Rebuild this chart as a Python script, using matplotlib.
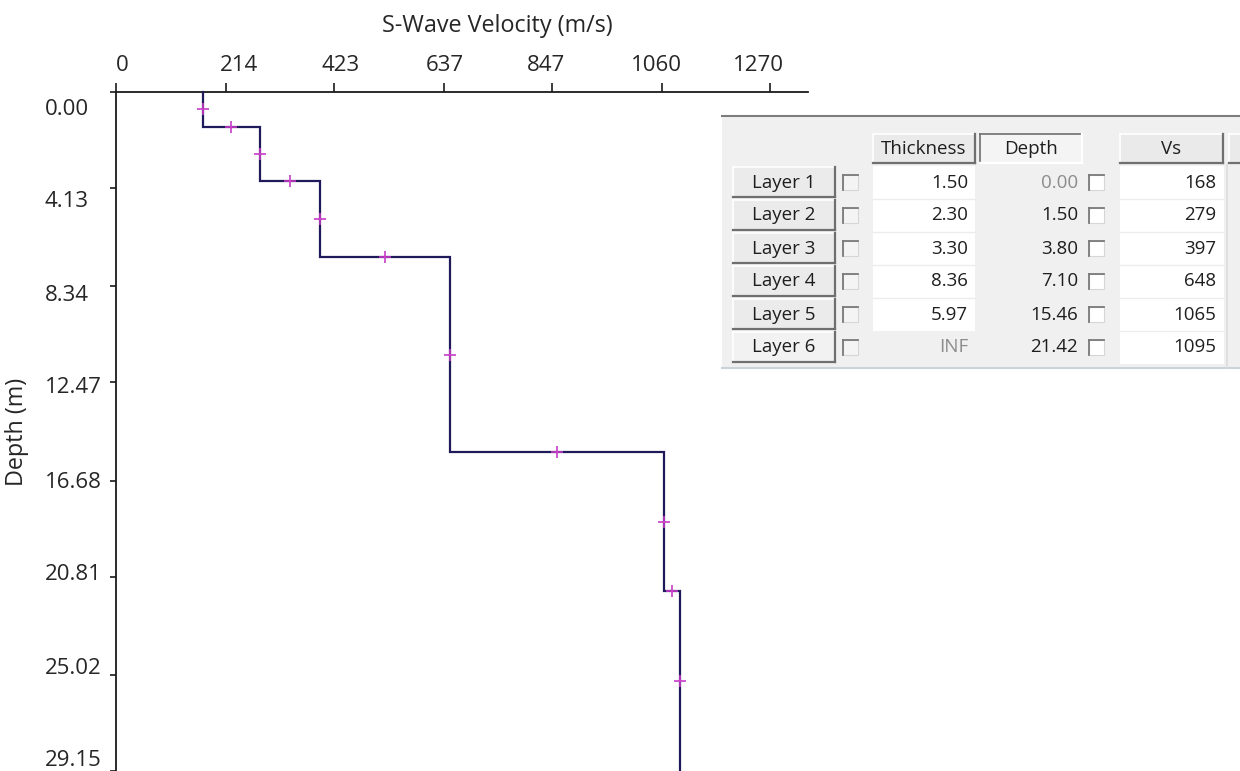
import numpy as np
import matplotlib
matplotlib.use("Agg")
import matplotlib.pyplot as plt
from matplotlib.patches import Rectangle
from matplotlib.transforms import ScaledTranslation

plt.rcParams['font.family'] = ['Open Sans', 'DejaVu Sans']

# Layered shear-wave velocity model
layer_names = ["Layer 1", "Layer 2", "Layer 3", "Layer 4", "Layer 5", "Layer 6"]
thickness = [1.50, 2.30, 3.30, 8.36, 5.97, None]   # None = half-space
top_depth = [0.00, 1.50, 3.80, 7.10, 15.46, 21.42]
vs = [168, 279, 397, 648, 1065, 1095]

x_ticks = [0, 214, 423, 637, 847, 1060, 1270]
y_ticks = [0.00, 4.13, 8.34, 12.47, 16.68, 20.81, 25.02, 29.15]
depth_max = 29.15
vel_max = 1344

W, H = 1240, 771
fig = plt.figure(figsize=(W / 100, H / 100), dpi=100)
fig.patch.set_facecolor('white')

# ---- profile axes -------------------------------------------------------
ax_left, ax_right, ax_top = 116, 808, 92
ax = fig.add_axes([ax_left / W, 0, (ax_right - ax_left) / W, (H - ax_top) / H])
ax.set_xlim(0, vel_max)
ax.set_ylim(depth_max, 0)
ax.xaxis.tick_top()
ax.xaxis.set_label_position('top')
for side in ('right', 'bottom'):
    ax.spines[side].set_visible(False)
for side in ('left', 'top'):
    ax.spines[side].set_linewidth(1.3)
    ax.spines[side].set_color('#1a1a1a')

text_col = '#262626'
ax.set_xticks(x_ticks)
ax.set_xticklabels([str(v) for v in x_ticks])
ax.set_yticks(y_ticks)
ax.set_yticklabels([f"{v:.2f}" for v in y_ticks])
ax.tick_params(axis='x', direction='out', length=6.5, width=1.2, pad=5,
               labelsize=16, colors='#1a1a1a', labelcolor=text_col)
ax.tick_params(axis='y', direction='out', length=4.3, width=1.2, pad=47,
               labelsize=16, colors='#1a1a1a', labelcolor=text_col)

# tick labels are laid out on their own, slightly tighter spacing
for i, lab in enumerate(ax.get_xticklabels()):
    lab.set_ha('left')
    lab.set_transform(lab.get_transform() +
                      ScaledTranslation(-6.2 * i / 100, 0, fig.dpi_scale_trans))
for i, lab in enumerate(ax.get_yticklabels()):
    lab.set_ha('left')
    lab.set_transform(lab.get_transform() +
                      ScaledTranslation(0, -(15 - 4.0 * i) / 100, fig.dpi_scale_trans))

ax.set_xlabel("S-Wave Velocity (m/s)", fontsize=16.8, color=text_col)
ax.xaxis.set_label_coords((497 - ax_left) / (ax_right - ax_left), 1 + 60 / (H - ax_top))
ax.set_ylabel("Depth (m)", fontsize=16.8, color=text_col)
ax.yaxis.set_label_coords((29 - ax_left) / (ax_right - ax_left), 0.5)

# step profile
bounds = np.array(top_depth + [depth_max])
px = np.repeat(vs, 2)
py = np.repeat(bounds, 2)[1:-1]
ax.plot(px, py, color='#1f1b5a', lw=1.6, solid_joinstyle='miter', clip_on=False, zorder=3)

# markers at the middle of every segment
mid_layer_x = np.array(vs, dtype=float)
mid_layer_y = (bounds[:-1] + bounds[1:]) / 2
mid_int_x = (np.array(vs[:-1]) + np.array(vs[1:])) / 2
mid_int_y = bounds[1:-1]
ax.plot(np.r_[mid_layer_x, mid_int_x], np.r_[mid_layer_y, mid_int_y], ls='none',
        marker='+', ms=9, mew=1.2, color='#c83cc8', zorder=4)

# ---- layer table ---------------------------------------------------------
tb = fig.add_axes([0, 0, 1, 1], zorder=5)
tb.set_xlim(0, W)
tb.set_ylim(H, 0)
tb.axis('off')
tb.patch.set_alpha(0)

bg = '#f0f0f0'
tb.add_patch(Rectangle((722, 116), W - 722, 252, facecolor=bg, edgecolor='none'))
tb.plot([722, W], [116, 116], color='#7d7d7d', lw=1.5)
tb.plot([722, W], [368, 368], color='#c9d3dc', lw=1.5)


def button(x0, x1, y0, y1, pressed=False, face='#eaeaea'):
    tb.add_patch(Rectangle((x0, y0), x1 - x0, y1 - y0, facecolor=face, edgecolor='none'))
    dark, light = '#6f6f6f', '#ffffff'
    tl, br = (dark, light) if pressed else (light, dark)
    tb.plot([x0, x1], [y0, y0], color=tl, lw=1.2)
    tb.plot([x0, x0], [y0, y1], color=tl, lw=1.2)
    tb.plot([x0, x1], [y1, y1], color=br, lw=1.6)
    tb.plot([x1, x1], [y0, y1], color=br, lw=1.6)


def checkbox(xc, yc, face):
    s = 15
    tb.add_patch(Rectangle((xc - s / 2, yc - s / 2), s, s, facecolor=face,
                           edgecolor='#d6d6d6', lw=0.8))
    tb.plot([xc - s / 2, xc + s / 2], [yc - s / 2, yc - s / 2], color='#7a7a7a', lw=1.3)
    tb.plot([xc - s / 2, xc - s / 2], [yc - s / 2, yc + s / 2], color='#7a7a7a', lw=1.3)


tfs = 13.5
tcol = '#1e1e1e'
gcol = '#8c8c8c'

# header row
hy0, hy1 = 134, 163
button(873, 975, hy0, hy1)
button(980, 1082, hy0, hy1, pressed=True, face='#f4f4f4')
button(1120, 1223, hy0, hy1)
button(1229, 1260, hy0, hy1)
tb.text(924, 149, "Thickness", fontsize=tfs, color=tcol, ha='center', va='center')
tb.text(1031, 149, "Depth", fontsize=tfs, color=tcol, ha='center', va='center')
tb.text(1171, 149, "Vs", fontsize=tfs, color=tcol, ha='center', va='center')

row_top, pitch = 166, 33
n = len(layer_names)
# white data cells
tb.add_patch(Rectangle((873, row_top), 102, pitch * (n - 1), facecolor='white', edgecolor='none'))
tb.add_patch(Rectangle((1120, row_top), 104, pitch * n, facecolor='white', edgecolor='none'))
for i in range(1, n):
    yy = row_top + i * pitch
    if i < n - 1:
        tb.plot([873, 975], [yy, yy], color='#ececec', lw=1)
    tb.plot([1120, 1224], [yy, yy], color='#ececec', lw=1)
tb.plot([1227, 1227], [hy1 + 2, 368], color='#dcdcdc', lw=1.2)

for i, name in enumerate(layer_names):
    y0 = row_top + i * pitch
    yc = y0 + pitch / 2
    button(733, 835, y0 + 1, y0 + pitch - 2, face='#ebebeb' if i < n - 1 else '#f2f2f2')
    tb.text(784, yc, name, fontsize=tfs, color=tcol, ha='center', va='center')
    checkbox(850, yc, '#f4f4f4')
    t = thickness[i]
    tb.text(968, yc, "INF" if t is None else f"{t:.2f}", fontsize=tfs,
            color=gcol if t is None else tcol, ha='right', va='center')
    tb.text(1078, yc, f"{top_depth[i]:.2f}", fontsize=tfs,
            color=gcol if i == 0 else tcol, ha='right', va='center')
    checkbox(1096, yc, '#ffffff')
    tb.text(1216, yc, f"{vs[i]}", fontsize=tfs, color=tcol, ha='right', va='center')

fig.savefig("out.png", dpi=100)
